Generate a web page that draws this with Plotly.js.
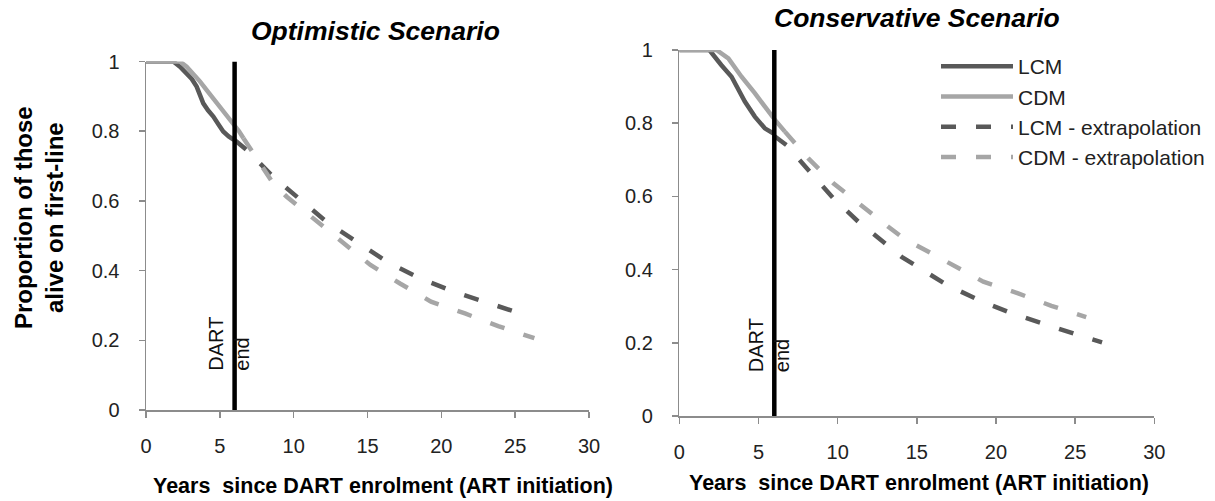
<!DOCTYPE html>
<html>
<head>
<meta charset="utf-8">
<script src="https://cdn.plot.ly/plotly-3.0.1.min.js"></script>
<style>html,body{margin:0;padding:0;background:#fff;}#chart{width:1215px;height:501px;}</style>
</head>
<body>
<div id="chart"></div>
<script>
// ---- Data: Optimistic scenario ----
var optLcmX = [0, 1.85, 2.3, 2.75, 3.1, 3.43, 3.88, 4.2, 4.56, 4.9, 5.23, 5.6, 5.95];
var optLcmY = [1, 1, 0.985, 0.966, 0.95, 0.928, 0.88, 0.86, 0.842, 0.82, 0.799, 0.785, 0.775];
var optCdmX = [0, 2.3, 2.75, 3.2, 3.65, 4.11, 4.55, 5.0, 5.45, 5.91, 6.3, 6.6];
var optCdmY = [1, 1, 0.985, 0.966, 0.943, 0.918, 0.895, 0.870, 0.847, 0.823, 0.8, 0.78];
var optLcmExtX = [6, 6.82, 8.62, 10.43, 12.23, 16.3, 18.55, 20.8, 23.2, 25.5];
var optLcmExtY = [0.775, 0.746, 0.669, 0.603, 0.540, 0.426, 0.378, 0.340, 0.306, 0.275];
var optCdmExtX = [6.6, 8.62, 9.53, 11.33, 13.1, 15.2, 17.2, 19.3, 21.6, 23.85, 26.3];
var optCdmExtY = [0.78, 0.65, 0.612, 0.550, 0.488, 0.416, 0.363, 0.311, 0.277, 0.241, 0.206];

// ---- Data: Conservative scenario ----
var conLcmX = [0, 1.9, 2.65, 3.3, 4.14, 4.77, 5.4, 5.95];
var conLcmY = [1, 1, 0.959, 0.927, 0.859, 0.818, 0.786, 0.772];
var conCdmX = [0, 2.35, 3.1, 3.93, 4.77, 5.4, 6.04, 6.67];
var conCdmY = [1, 1, 0.977, 0.927, 0.882, 0.845, 0.809, 0.777];
var conLcmExtX = [6.0, 6.78, 8.25, 9.73, 11.3, 12.25, 14.04, 16.9, 19.0, 21.1, 23.3, 25.5, 26.7];
var conLcmExtY = [0.765, 0.740, 0.667, 0.595, 0.531, 0.499, 0.435, 0.358, 0.315, 0.279, 0.247, 0.217, 0.201];
var conCdmExtX = [6.67, 8.15, 9.73, 11.4, 13.2, 14.15, 17.2, 19.2, 21.4, 23.5, 25.7];
var conCdmExtY = [0.777, 0.704, 0.636, 0.577, 0.517, 0.486, 0.413, 0.367, 0.335, 0.301, 0.270];

var dartEnd = 6;
var seriesNames = ["LCM", "CDM", "LCM - extrapolation", "CDM - extrapolation"];
var xTicks = [0, 5, 10, 15, 20, 25, 30];
var yTicks = [0, 0.2, 0.4, 0.6, 0.8, 1];
var yTickText = ["0", "0.2", "0.4", "0.6", "0.8", "1"];

// ---- Styles ----
var darkC = "#595959", lightC = "#a6a6a6";
var lw = 4.5;
var dashP = "15px,20px";
var FONT = "Liberation Sans, Arial, sans-serif";

function tr(x, y, name, color, dash, xa, ya, show) {
  return {x: x, y: y, name: name, type: "scatter", mode: "lines",
    line: {color: color, width: lw, dash: dash},
    xaxis: xa, yaxis: ya, showlegend: show, hoverinfo: "skip"};
}

var data = [
  tr(optLcmX, optLcmY, seriesNames[0], darkC, "solid", "x", "y", false),
  tr(optCdmX, optCdmY, seriesNames[1], lightC, "solid", "x", "y", false),
  tr(optLcmExtX, optLcmExtY, seriesNames[2], darkC, dashP, "x", "y", false),
  tr(optCdmExtX, optCdmExtY, seriesNames[3], lightC, dashP, "x", "y", false),
  tr(conLcmX, conLcmY, seriesNames[0], darkC, "solid", "x2", "y2", true),
  tr(conCdmX, conCdmY, seriesNames[1], lightC, "solid", "x2", "y2", true),
  tr(conLcmExtX, conLcmExtY, seriesNames[2], darkC, dashP, "x2", "y2", true),
  tr(conCdmExtX, conCdmExtY, seriesNames[3], lightC, dashP, "x2", "y2", true)
];

var tickFont = {family: FONT, size: 20, color: "#222"};
function xAx(dom, anchor) {
  return {domain: dom, anchor: anchor, range: [0, 30], tickvals: xTicks, ticktext: xTicks.map(String),
    showgrid: false, zeroline: false, showline: true, linecolor: "#8c8c8c", linewidth: 1.5,
    ticks: "outside", ticklen: 6, tickcolor: "#8c8c8c", tickwidth: 1.5,
    tickfont: tickFont, ticklabelstandoff: 11, fixedrange: true};
}
function yAx(dom, anchor) {
  return {domain: dom, anchor: anchor, range: [0, 1], tickvals: yTicks, ticktext: yTickText,
    showgrid: false, zeroline: false, showline: true, linecolor: "#8c8c8c", linewidth: 1.5,
    ticks: "outside", ticklen: 6, tickcolor: "#8c8c8c", tickwidth: 1.5,
    tickfont: tickFont, ticklabelstandoff: 15, fixedrange: true};
}

var W = 1215, H = 501;
function px(v) { return v / W; }
function py(v) { return (H - v) / H; }

var layout = {
  width: W, height: H,
  margin: {l: 0, r: 0, t: 0, b: 0},
  paper_bgcolor: "#fff", plot_bgcolor: "#fff",
  showlegend: true,
  legend: {x: px(936), y: py(46), xanchor: "left", yanchor: "top",
    font: {family: FONT, size: 21, color: "#222"}, bgcolor: "rgba(0,0,0,0)",
    itemwidth: 72, tracegroupgap: 0},
  xaxis: xAx([px(146), px(589)], "y"),
  yaxis: yAx([py(410), py(61.5)], "x"),
  xaxis2: xAx([px(679.3), px(1154.3)], "y2"),
  yaxis2: yAx([py(416), py(50)], "x2"),
  shapes: [
    {type: "line", xref: "x", yref: "y", x0: dartEnd, x1: dartEnd, y0: 0, y1: 1, line: {color: "#000", width: 4.5}},
    {type: "line", xref: "x2", yref: "y2", x0: dartEnd, x1: dartEnd, y0: 0, y1: 1, line: {color: "#000", width: 4.5}}
  ],
  annotations: [
    {text: "<b><i>Optimistic Scenario</i></b>", xref: "paper", yref: "paper", x: px(375.5), y: py(31),
      xanchor: "center", yanchor: "middle", showarrow: false, font: {family: FONT, size: 26.5, color: "#000"}},
    {text: "<b><i>Conservative Scenario</i></b>", xref: "paper", yref: "paper", x: px(917.5), y: py(18),
      xanchor: "center", yanchor: "middle", showarrow: false, font: {family: FONT, size: 26.5, color: "#000"}},
    {text: "<b>Proportion of those<br>alive on first-line</b>", xref: "paper", yref: "paper", x: px(39), y: py(218),
      xanchor: "center", yanchor: "middle", textangle: -90, showarrow: false, font: {family: FONT, size: 24, color: "#000"}},
    {text: "<b>Years  since DART enrolment (ART initiation)</b>", xref: "paper", yref: "paper", x: px(383), y: py(486),
      xanchor: "center", yanchor: "middle", showarrow: false, font: {family: FONT, size: 21.5, color: "#000"}},
    {text: "<b>Years  since DART enrolment (ART initiation)</b>", xref: "paper", yref: "paper", x: px(918.7), y: py(483),
      xanchor: "center", yanchor: "middle", showarrow: false, font: {family: FONT, size: 21.5, color: "#000"}},
    {text: "DART<br>end", xref: "x", yref: "y", x: dartEnd, y: 0.106, xshift: -6, xanchor: "center", yanchor: "bottom",
      align: "left", textangle: -90, showarrow: false, font: {family: FONT, size: 20, color: "#111"}},
    {text: "DART<br>end", xref: "x2", yref: "y2", x: dartEnd, y: 0.115, xshift: -5, xanchor: "center", yanchor: "bottom",
      align: "left", textangle: -90, showarrow: false, font: {family: FONT, size: 20, color: "#111"}}
  ]
};

Plotly.newPlot("chart", data, layout, {displayModeBar: false, staticPlot: true});
</script>
</body>
</html>
